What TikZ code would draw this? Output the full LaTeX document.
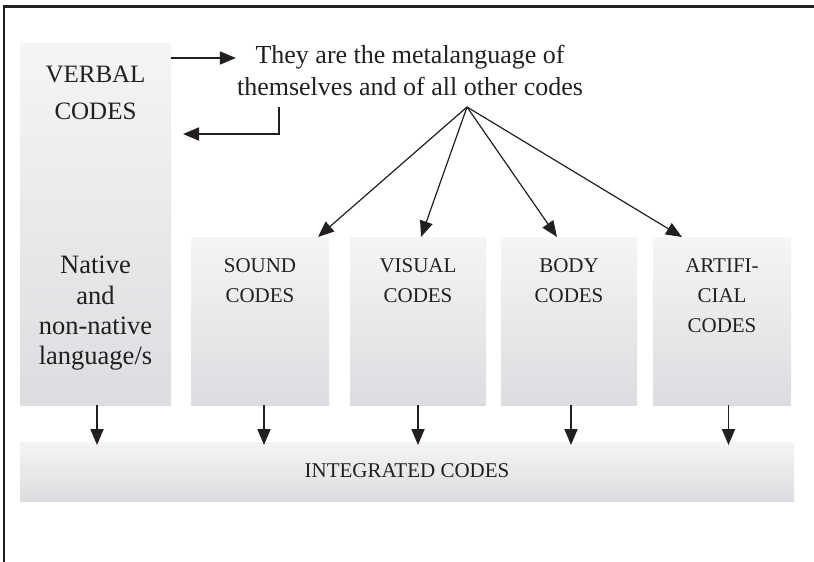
\documentclass[tikz,border=0pt]{standalone}
\usepackage{fontspec}
\setmainfont{Liberation Serif}
\usetikzlibrary{arrows.meta,calc}
\definecolor{ink}{HTML}{231F20}
\definecolor{boxtop}{HTML}{F4F5F5}
\definecolor{boxbot}{HTML}{DCDDE0}
\begin{document}
\begin{tikzpicture}[x=1pt,y=-1pt,
  codebox/.style={rectangle, inner sep=0pt, outer sep=0pt, top color=boxtop,
    bottom color=boxbot, draw=none, anchor=north west},
  boxlabel/.style={text=ink, inner sep=0pt, align=center, anchor=north,
    font=\fontsize{21}{30}\selectfont},
  headtip/.style={-{Triangle[length=16pt,width=13pt]}},
  thickarrow/.style={headtip, draw=ink, line width=1.8pt},
  thinarrow/.style={headtip, draw=ink, line width=1.2pt},
]
\useasboundingbox (0,0) rectangle (814,562);

% open frame: left and top edges only
\draw[ink, line width=2.5pt] (4,562) -- (4,6.3) -- (814,6.3);

% code boxes
\node[codebox, minimum width=151pt, minimum height=362pt] (verbal) at (20,43) {};
\node[codebox, minimum width=138pt, minimum height=168pt] (sound)  at (191,237) {};
\node[codebox, minimum width=136pt, minimum height=168pt] (visual) at (350,237) {};
\node[codebox, minimum width=136pt, minimum height=168pt] (body)   at (501,237) {};
\node[codebox, minimum width=138pt, minimum height=168pt] (artif)  at (653,237) {};
\node[codebox, minimum width=774pt, minimum height=59pt]  (integ)  at (20,442) {};

% box labels
\node[boxlabel, font=\fontsize{25}{37}\selectfont] (verbalname) at (95.5,65.5) {VERBAL\\CODES};
\node[boxlabel, font=\fontsize{26.5}{30.3}\selectfont] (verballang) at (95.5,256) {Native\\and\\non-native\\language/s};
\node[boxlabel] (soundname)  at (260,258) {SOUND\\CODES};
\node[boxlabel] (visualname) at (418,258) {VISUAL\\CODES};
\node[boxlabel] (bodyname)   at (569,258) {BODY\\CODES};
\node[boxlabel] (artifname)  at (722,258) {ARTIFI-\\CIAL\\CODES};
\node[text=ink, inner sep=0pt, anchor=base, font=\fontsize{21}{25}\selectfont] (integname)
  at (407,477) {INTEGRATED CODES};

% metalanguage statement
\node[text=ink, inner sep=0pt, align=center, anchor=north,
  font=\fontsize{26}{32}\selectfont] (meta) at (410,45)
  {They are the metalanguage of\\themselves and of all other codes};

% verbal codes <-> statement
\coordinate (vout) at ([yshift=-15pt]verbal.north east);
\draw[thickarrow] (vout) -- ($(vout -| meta.west)+(-1,0)$);
\coordinate (retA) at (279,107);
\coordinate (retB) at (183,134);
\draw[thickarrow] (retA) |- (retB);

% statement fans out to the other codes
\coordinate (hub) at (467,107);
\draw[thinarrow] (hub) -- ([xshift=58pt]sound.north);
\draw[thinarrow] (hub) -- ([xshift=3pt]visual.north);
\draw[thinarrow] (hub) -- ([xshift=-12pt]body.north);
\draw[thinarrow] (hub) -- ([xshift=-40pt]artif.north);

% every code feeds the integrated codes
\draw[thickarrow] ([xshift=1.5pt]verbal.south) -- ($(verbal.south |- integ.north)+(1.5,3)$);
\draw[thickarrow] ([xshift=4pt]sound.south)    -- ($(sound.south |- integ.north)+(4,3)$);
\draw[thickarrow] (visual.south)               -- ($(visual.south |- integ.north)+(0,3)$);
\draw[thickarrow] ([xshift=2pt]body.south)     -- ($(body.south |- integ.north)+(2,3)$);
\draw[thickarrow] ([xshift=6.5pt]artif.south)  -- ($(artif.south |- integ.north)+(6.5,3)$);
\end{tikzpicture}
\end{document}
